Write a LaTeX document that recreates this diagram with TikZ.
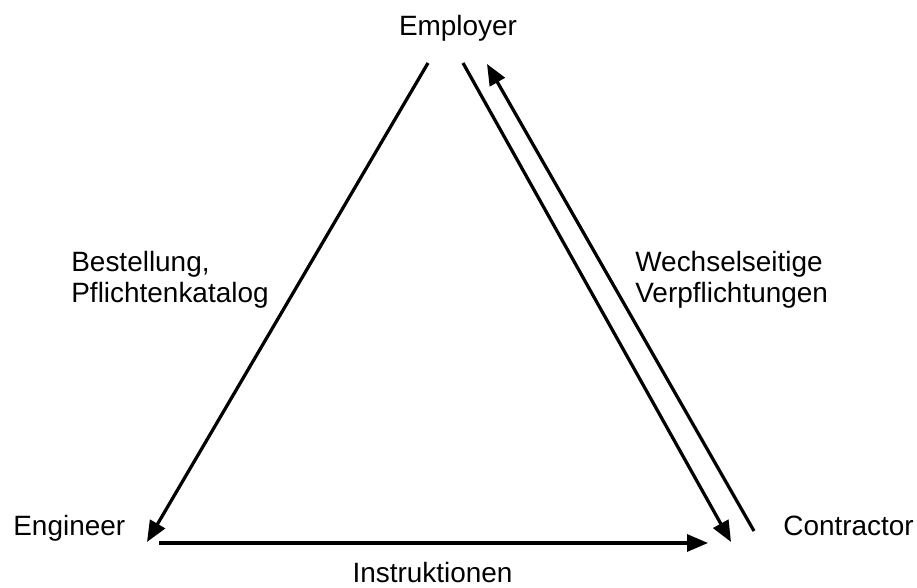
\documentclass[tikz,border=0pt]{standalone}
\usepackage{fontspec}
\setmainfont{Liberation Sans}
\usepackage{tikz}
\usetikzlibrary{arrows.meta}

\begin{document}
\begin{tikzpicture}

	\tikzset{party/.style={inner sep=0pt, font=\fontsize{15.9}{17.6}\selectfont},
		duty/.style={party, align=left, anchor=north west},
		link/.style={line width=0.065cm, -{Triangle[length=0.42cm,width=0.34cm]}}}

	\useasboundingbox (0,0) rectangle (18.34,11.76);

	\node[party, anchor=base] (employer) at (9.16,11.04) {Employer};
	\node[party, anchor=base west] (engineer) at (0.26,1.04) {Engineer};
	\node[party, anchor=base west] (contractor) at (15.66,1.04) {Contractor};

	\coordinate (emp-l) at (8.56,10.50);
	\coordinate (emp-r) at (9.26,10.50);
	\coordinate (emp-tip) at (9.74,10.48);
	\coordinate (eng-tip) at (2.94,0.92);
	\coordinate (eng-r) at (3.18,0.90);
	\coordinate (con-tip) at (14.62,0.92);
	\coordinate (con-l) at (14.16,0.90);
	\coordinate (con-r) at (15.08,1.14);

	\draw[link] (emp-l) -- (eng-tip);
	\draw[link] (emp-r) -- (con-tip);
	\draw[link] (con-r) -- (emp-tip);
	\draw[link] (eng-r) -- (con-l);

	\node[duty] (order) at (1.42,6.74) {Bestellung,\\Pflichtenkatalog};
	\node[duty] (mutual) at (12.70,6.74) {Wechselseitige\\Verpflichtungen};
	\node[party, anchor=base] (instr) at (8.65,0.1) {Instruktionen};

\end{tikzpicture}
\end{document}
